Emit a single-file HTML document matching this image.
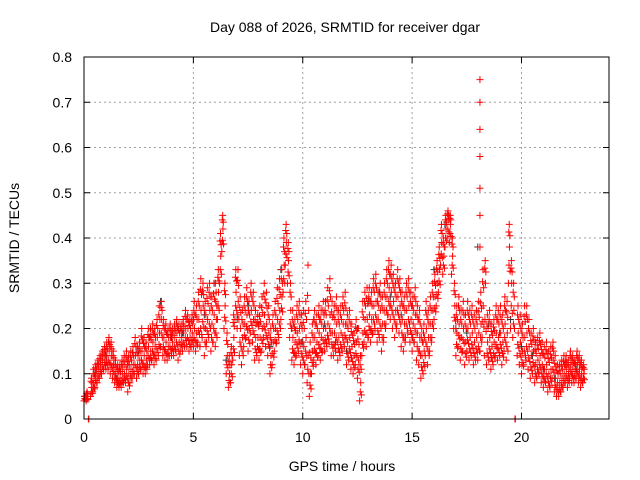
<!DOCTYPE html>
<html><head><meta charset="utf-8"><style>
body{margin:0;background:#fff}
svg{display:block;font-family:"Liberation Sans",sans-serif}
</style></head><body>
<svg id="chart" width="640" height="480">
<rect x="0" y="0" width="640" height="480" fill="#fff"/>
<text x="345" y="32" font-size="14" text-anchor="middle" fill="#000">Day 088 of 2026, SRMTID for receiver dgar</text>
<g id="grid"></g>
<g id="marks"></g>
<rect x="84" y="57" width="525" height="362" fill="none" stroke="#000" stroke-width="1"/>
<g id="ticks"></g>
<text x="342" y="471" font-size="14" text-anchor="middle">GPS time / hours</text>
<text transform="translate(19,238) rotate(-90)" font-size="14" text-anchor="middle">SRMTID / TECUs</text>
</svg>
<script>
const xTicks=[0,5,10,15,20];
const yTicks=[0,0.1,0.2,0.3,0.4,0.5,0.6,0.7,0.8];
const yTickLabels=["0","0.1","0.2","0.3","0.4","0.5","0.6","0.7","0.8"];
const redLo=[.04,.04,0,.05,.06,.07,.08,.09,.10,.11,
.11,.11,.10,.09,.08,.07,.07,.07,.08,.08,
.06,.08,.09,.10,.09,.10,.11,.10,.10,.12,
.12,.13,.12,.13,.14,.16,.14,.13,.13,.14,
.14,.14,.15,.13,.15,.15,.16,.16,.15,.16,
.16,.15,.17,.16,.18,.14,.17,.18,.15,.17,
.16,.22,.30,.37,.20,.10,.07,.08,.13,.22,
.20,.14,.12,.16,.18,.15,.19,.17,.13,.14,
.13,.15,.18,.16,.14,.10,.12,.15,.17,.18,
.22,.28,.34,.30,.18,.13,.12,.14,.15,.12,
.10,.12,.08,.05,.10,.13,.12,.14,.13,.15,
.15,.16,.17,.14,.14,.15,.13,.14,.15,.16,
.12,.13,.11,.10,.12,.09,.04,.14,.17,.16,
.18,.17,.19,.20,.17,.18,.15,.18,.21,.23,
.22,.20,.18,.21,.19,.16,.15,.18,.19,.17,
.15,.17,.13,.12,.09,.10,.14,.12,.15,.18,
.22,.25,.28,.34,.32,.38,.40,.39,.32,.20,
.14,.16,.13,.15,.12,.15,.13,.14,.12,.13,
.13,.15,.18,.14,.12,.13,.11,.12,.14,.13,
.14,.12,.15,.13,.30,.20,.18,0,.14,.12,
.10,.12,.13,.11,.09,.10,.08,.09,.10,.08,
.07,.08,.06,.07,.09,.06,.05,.05,.06,.07,
.08,.07,.09,.08,.08,.09,.08,.07,.08];
const redMid=[.05,.05,0,.07,.08,.10,.11,.12,.13,.14,
.14,.15,.14,.12,.10,.09,.09,.10,.10,.11,
.10,.11,.12,.14,.12,.13,.15,.14,.13,.16,
.15,.17,.16,.18,.19,.22,.18,.17,.16,.18,
.17,.18,.19,.17,.18,.19,.20,.20,.18,.19,
.20,.19,.22,.24,.25,.20,.22,.24,.21,.23,
.22,.28,.36,.42,.25,.14,.10,.12,.18,.28,
.26,.20,.18,.21,.23,.20,.24,.22,.18,.18,
.18,.20,.23,.21,.19,.14,.17,.20,.22,.24,
.27,.34,.39,.35,.24,.18,.17,.19,.20,.17,
.16,.18,.14,.10,.15,.18,.17,.19,.18,.20,
.20,.21,.23,.19,.19,.21,.18,.19,.21,.21,
.17,.18,.16,.14,.17,.13,.08,.19,.22,.22,
.23,.22,.25,.26,.22,.24,.21,.24,.27,.29,
.28,.26,.24,.27,.25,.22,.21,.24,.25,.22,
.21,.23,.19,.18,.14,.15,.20,.18,.21,.24,
.27,.30,.33,.39,.36,.42,.44,.43,.36,.25,
.19,.21,.18,.20,.17,.20,.18,.19,.17,.18,
.19,.21,.25,.30,.17,.18,.16,.17,.19,.18,
.19,.17,.21,.19,.38,.30,.24,0,.19,.17,
.15,.18,.19,.16,.14,.15,.12,.13,.14,.12,
.11,.12,.10,.11,.13,.09,.08,.08,.09,.10,
.11,.10,.12,.11,.11,.12,.11,.10,.10];
const redHi=[.05,.06,0,.09,.11,.12,.13,.14,.15,.16,
.17,.18,.17,.15,.13,.12,.12,.13,.14,.15,
.14,.15,.16,.18,.16,.17,.20,.18,.17,.20,
.20,.21,.20,.22,.25,.26,.22,.21,.20,.21,
.20,.21,.22,.21,.21,.22,.24,.23,.22,.23,
.26,.25,.28,.31,.30,.26,.29,.30,.27,.30,
.28,.33,.41,.45,.30,.19,.14,.16,.23,.33,
.33,.27,.24,.27,.29,.26,.30,.28,.24,.23,
.25,.27,.30,.28,.25,.20,.23,.26,.29,.31,
.33,.40,.43,.39,.30,.24,.22,.25,.26,.23,
.24,.26,.34,.17,.21,.24,.23,.25,.24,.26,
.26,.29,.31,.26,.25,.27,.24,.25,.27,.28,
.23,.24,.21,.19,.22,.20,.14,.26,.28,.29,
.29,.28,.31,.32,.28,.30,.27,.30,.33,.35,
.34,.32,.30,.33,.31,.28,.27,.30,.31,.28,
.27,.29,.25,.24,.20,.21,.26,.24,.27,.30,
.32,.35,.38,.43,.40,.45,.46,.45,.40,.30,
.25,.27,.24,.26,.23,.26,.24,.25,.23,.24,
.26,.28,.33,.35,.23,.24,.21,.22,.25,.24,
.25,.23,.27,.26,.43,.35,.30,0,.25,.23,
.21,.25,.25,.22,.19,.20,.17,.18,.19,.17,
.16,.17,.15,.16,.17,.14,.12,.12,.13,.14,
.14,.13,.15,.14,.13,.15,.14,.13,.12];
const spikeTimes=[18.1,18.1,18.1,18.1,18.1,18.1,18.1];
const spikeValues=[.75,.70,.64,.58,.51,.45,.38];
const blackTimes=[0.5,1,1.5,2,2.5,3,3.5,4,4.5,5,5.5,6,6.5,7,7.5,8,8.5,9,9.5,10,10.5,11,11.5,12,12.5,13,13.5,14,14.5,15,15.5,16,16.5,17,17.5,18,18.5,19,19.5,20,20.5,21,21.5,22,22.5];
const blackValues=[.10,.14,.09,.12,.15,.18,.26,.18,.19,.22,.23,.30,.13,.22,.25,.21,.16,.33,.20,.17,.22,.21,.17,.15,.20,.26,.28,.27,.23,.18,.17,.33,.43,.20,.19,.38,.21,.19,.22,.16,.14,.11,.09,.12,.11];
const X0=84,X1=609,Y0=419,Y1=57,XMAX=24,YMAX=0.8;
const sx=t=>X0+(X1-X0)*t/XMAX;
const sy=v=>Y0-(Y0-Y1)*v/YMAX;
const NS="http://www.w3.org/2000/svg";
const grid=document.getElementById('grid'),ticks=document.getElementById('ticks'),marks=document.getElementById('marks');
function mk(tag,attrs,parent){const e=document.createElementNS(NS,tag);for(const k in attrs)e.setAttribute(k,attrs[k]);parent.appendChild(e);return e;}
xTicks.forEach(t=>{
  const x=sx(t);
  if(t>0){const g=mk('line',{x1:x,x2:x,y1:Y1,y2:Y0,stroke:'#a0a0a0','stroke-dasharray':'2,3'},grid);
  
  }
  mk('line',{x1:x,x2:x,y1:Y0,y2:Y0-6,stroke:'#000'},ticks);
  mk('line',{x1:x,x2:x,y1:Y1,y2:Y1+6,stroke:'#000'},ticks);
  const l=mk('text',{x:x,y:442,'font-size':14,'text-anchor':'middle'},ticks);
  l.textContent=t;
  
  
});
yTicks.forEach((v,i)=>{
  const y=sy(v);
  if(v>0&&v<YMAX){const g=mk('line',{x1:X0,x2:X1,y1:y,y2:y,stroke:'#a0a0a0','stroke-dasharray':'2,3'},grid);
  
  }
  mk('line',{x1:X0,x2:X0+6,y1:y,y2:y,stroke:'#000'},ticks);
  mk('line',{x1:X1,x2:X1-6,y1:y,y2:y,stroke:'#000'},ticks);
  const l=mk('text',{x:72,y:y+5,'font-size':14,'text-anchor':'end'},ticks);
  l.textContent=yTickLabels[i];
  
  
});
function plus(t,v,color){
  const x=sx(t),y=sy(v);
  const p=mk('path',{d:`M${x-3.5},${y}h7M${x},${y-3.5}v7`,stroke:color,'stroke-width':1,fill:'none'},marks);
  
  
}
blackTimes.forEach((t,i)=>plus(t,blackValues[i],'#333'));
redMid.forEach((m,i)=>{
  const t=i*0.1;
  if(m===0){plus(t,0,'#f00');plus(t+0.02,0,'#f00');return;}
  const lo=redLo[i],hi=redHi[i];
  plus(t,lo,'#f00');plus(t+0.03,(lo+m)/2,'#f00');plus(t+0.05,m,'#f00');
  plus(t+0.07,(m+hi)/2,'#f00');plus(t+0.04,hi,'#f00');
  plus(t+0.08,(lo*2+m)/3,'#f00');plus(t+0.02,(hi*2+m)/3,'#f00');
});
spikeTimes.forEach((t,i)=>plus(t,spikeValues[i],'#f00'));
</script>
</body></html>
